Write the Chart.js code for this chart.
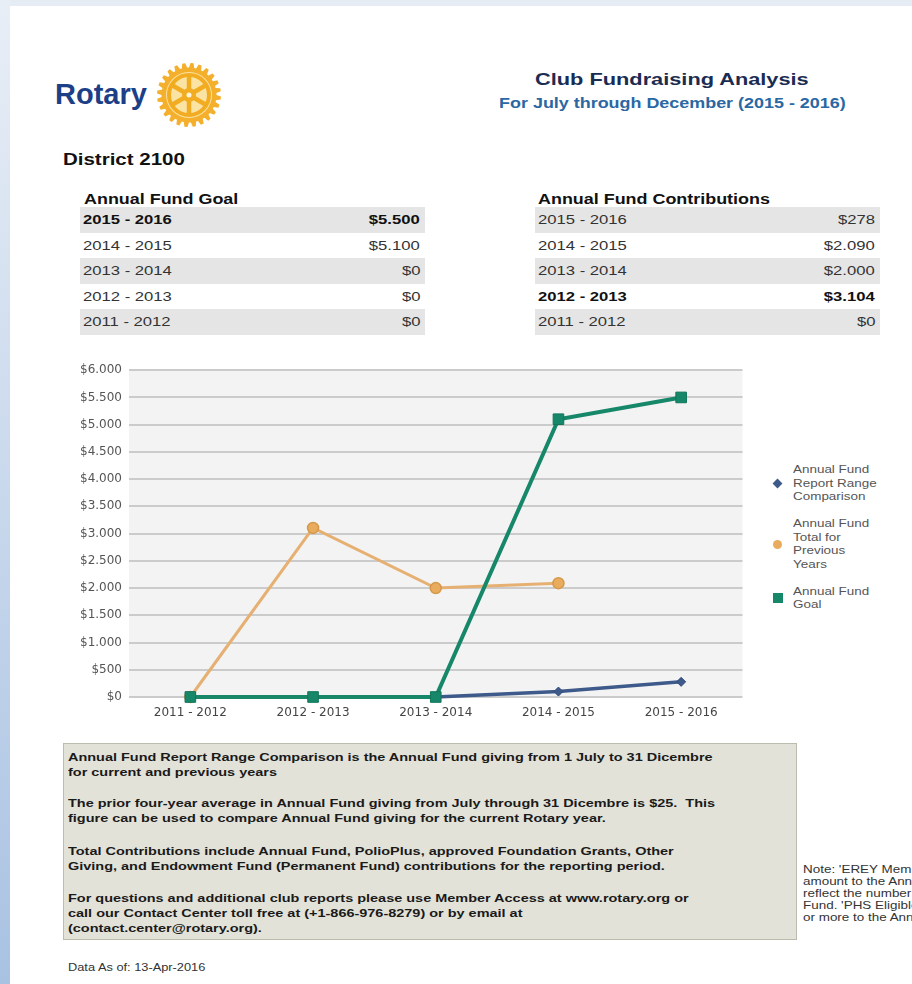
<!DOCTYPE html>
<html>
<head>
<meta charset="utf-8">
<script src="https://cdn.jsdelivr.net/npm/chart.js@4.4.0/dist/chart.umd.min.js"></script>
<style>
html, body { margin: 0; padding: 0; width: 912px; height: 984px; overflow: hidden; }
body { background: #e5ecf4; font-family: "Liberation Sans", Arial, sans-serif; color: #222; position: relative; }
#strip { position: absolute; left: 0; top: 0; width: 10px; height: 984px; background: linear-gradient(#e8eef6, #a9c2e2); }
#page { position: absolute; left: 10px; top: 6px; right: 0; bottom: 0; background: #fff; }
.a { position: absolute; white-space: nowrap; }
.s { display: inline-block; white-space: nowrap; transform: scaleX(1.28); transform-origin: left center; }
.s.r { transform-origin: right center; }
.s.c { transform-origin: center center; }
.row { display: flex; justify-content: space-between; height: 25.5px; line-height: 25.5px; font-size: 13px; color: #333; padding: 0 5px 0 3px; }
.row.sh { background: #e5e5e5; }
.row.b { font-weight: bold; color: #111; }
#note { position: absolute; left: 63px; top: 743px; width: 732px; height: 195px; background: #e3e2d8; border: 1px solid #bcbcae; }
.np { position: absolute; left: 68px; font-size: 11.3px; line-height: 15px; font-weight: bold; color: #1a1a1a; }
#legend { position: absolute; left: 771px; top: 463px; }
.li { position: relative; padding-left: 22px; margin-bottom: 13.5px; }
.li .mk { position: absolute; left: 2px; top: 50%; }
.li .tx { display: block; max-width: 70px; white-space: normal; font-size: 10.5px; line-height: 13.5px; color: #555; transform: scaleX(1.28); transform-origin: left center; }
</style>
</head>
<body>
<div id="strip"></div>
<div id="page"></div>

<div class="a" style="left:55px;top:78px;font-size:29px;line-height:32px;font-weight:bold;color:#1d3f88;">Rotary</div>
<svg class="a" id="wheel" style="left:155px;top:61px;" width="68" height="68" viewBox="0 0 68 68"></svg>

<div class="a" style="left:472px;top:70px;width:400px;text-align:center;font-size:17px;line-height:20px;font-weight:bold;color:#1b2c52;"><span class="s c">Club Fundraising Analysis</span></div>
<div class="a" style="left:472px;top:93px;width:400px;text-align:center;font-size:14px;line-height:20px;font-weight:bold;color:#2b67a3;"><span class="s c">For July through December (2015 - 2016)</span></div>

<div class="a" style="left:63px;top:150px;font-size:16px;line-height:20px;font-weight:bold;color:#111;"><span class="s">District 2100</span></div>
<div class="a" style="left:84px;top:190px;font-size:14px;line-height:18px;font-weight:bold;color:#111;"><span class="s">Annual Fund Goal</span></div>
<div class="a" style="left:538px;top:190px;font-size:14px;line-height:18px;font-weight:bold;color:#111;"><span class="s">Annual Fund Contributions</span></div>
<div class="a" id="goalTable" style="left:80px;top:207px;width:345px;"></div>
<div class="a" id="contribTable" style="left:535px;top:207px;width:345px;"></div>

<div class="a" style="left:60px;top:356px;width:691px;height:372px;">
  <canvas id="chart"></canvas>
</div>
<div id="legend"></div>

<div id="note"></div>
<div class="np" style="top:749.5px;"><span class="s">Annual Fund Report Range Comparison is the Annual Fund giving from 1 July to 31 Dicembre<br>for current and previous years</span></div>
<div class="np" style="top:795.5px;"><span class="s">The prior four-year average in Annual Fund giving from July through 31 Dicembre is $25.&nbsp; This<br>figure can be used to compare Annual Fund giving for the current Rotary year.</span></div>
<div class="np" style="top:843.5px;"><span class="s">Total Contributions include Annual Fund, PolioPlus, approved Foundation Grants, Other<br>Giving, and Endowment Fund (Permanent Fund) contributions for the reporting period.</span></div>
<div class="np" style="top:890.5px;"><span class="s">For questions and additional club reports please use Member Access at www.rotary.org or<br>call our Contact Center toll free at (+1-866-976-8279) or by email at<br>(contact.center@rotary.org).</span></div>

<div class="a" style="left:68px;top:961px;font-size:10px;line-height:14px;color:#333;"><span class="s">Data As of: 13-Apr-2016</span></div>

<div class="a" style="left:803px;top:863px;font-size:10.5px;line-height:12px;color:#333;"><span class="s">Note: 'EREY Member' indicates a member who has contributed a minimum<br>amount to the Annual Fund during the current Rotary year. Totals may not<br>reflect the number of members who contributed to the Annual<br>Fund. 'PHS Eligible' indicates a member who has contributed US$1,000<br>or more to the Annual Fund.</span></div>

<script>
const categories = ['2011 - 2012', '2012 - 2013', '2013 - 2014', '2014 - 2015', '2015 - 2016'];
const rangeComparison = [0, 0, 0, 100, 278];
const previousYears = [0, 3104, 2000, 2090, null];
const fundGoal = [0, 0, 0, 5100, 5500];
const contributions = [0, 3104, 2000, 2090, 278];
const seriesLabels = ['Annual Fund Report Range Comparison', 'Annual Fund Total for Previous Years', 'Annual Fund Goal'];
const yMax = 6000;
const yStep = 500;

function fmt(v) {
    return '$' + String(v).replace(/\B(?=(\d{3})+(?!\d))/g, '.');
}

// tables list the newest year first, the largest value in bold
function buildTable(el, values) {
    const max = Math.max(...values);
    let html = '';
    for (let i = categories.length - 1, r = 0; i >= 0; i--, r++) {
        const cls = 'row' + (r % 2 === 0 ? ' sh' : '') + (values[i] === max ? ' b' : '');
        html += `<div class="${cls}"><span class="s">${categories[i]}</span><span class="s r">${fmt(values[i])}</span></div>`;
    }
    el.innerHTML = html;
}
buildTable(document.getElementById('goalTable'), fundGoal);
buildTable(document.getElementById('contribTable'), contributions);

// rotary wheel logo
(function drawWheel() {
    const svg = document.getElementById('wheel');
    const cx = 34, cy = 34, n = 24, rOut = 32, rIn = 27.5;
    const pts = [];
    for (let i = 0; i < n; i++) {
        const step = Math.PI * 2 / n;
        const a = i * step;
        [[rIn, 0], [rOut, 0.18], [rOut, 0.55], [rIn, 0.73]].forEach(([r, f]) => {
            pts.push((cx + r * Math.cos(a + f * step)).toFixed(2) + ',' + (cy + r * Math.sin(a + f * step)).toFixed(2));
        });
    }
    let spokes = '';
    for (let i = 0; i < 6; i++) {
        const a = i * Math.PI / 3 + Math.PI / 6;
        spokes += `<line x1="${cx + 6 * Math.cos(a)}" y1="${cy + 6 * Math.sin(a)}" x2="${cx + 20 * Math.cos(a)}" y2="${cy + 20 * Math.sin(a)}" stroke="#f2ac22" stroke-width="4.5"/>`;
    }
    svg.innerHTML = `<polygon points="${pts.join(' ')}" fill="#f4b02c"/>
        <circle cx="${cx}" cy="${cy}" r="23" fill="#fbe3a4"/>
        <circle cx="${cx}" cy="${cy}" r="20" fill="none" stroke="#f2ac22" stroke-width="4"/>
        ${spokes}
        <circle cx="${cx}" cy="${cy}" r="7" fill="#f2ac22"/>
        <circle cx="${cx}" cy="${cy}" r="2.5" fill="#fff6dc"/>`;
})();

const plotBg = {
    id: 'plotBg',
    beforeDraw(c) {
        const { ctx, chartArea: a } = c;
        ctx.save();
        ctx.fillStyle = '#f3f3f3';
        ctx.fillRect(a.left, a.top, a.right - a.left, a.bottom - a.top);
        ctx.restore();
    }
};

const chart = new Chart(document.getElementById('chart'), {
    type: 'line',
    data: {
        labels: categories,
        datasets: [{
            label: seriesLabels[0],
            data: rangeComparison,
            borderColor: '#3d5a8b',
            backgroundColor: '#3d5a8b',
            borderWidth: 3.5,
            pointStyle: 'rectRot',
            pointRadius: 4.5,
            pointBorderWidth: 1,
            pointBorderColor: '#2f4a78',
            clip: false,
            order: 3
        }, {
            label: seriesLabels[1],
            data: previousYears,
            borderColor: '#e6b072',
            backgroundColor: '#e9ac5e',
            borderWidth: 3,
            pointStyle: 'circle',
            pointRadius: 5.5,
            pointBorderWidth: 1.5,
            pointBorderColor: '#d49848',
            clip: false,
            order: 2
        }, {
            label: seriesLabels[2],
            data: fundGoal,
            borderColor: '#17876a',
            backgroundColor: '#17876a',
            borderWidth: 4,
            pointStyle: 'rect',
            pointRadius: 7.5,
            pointBorderWidth: 1,
            pointBorderColor: '#127559',
            clip: false,
            order: 1
        }]
    },
    options: {
        responsive: true,
        maintainAspectRatio: false,
        animation: false,
        layout: { padding: { top: 10, right: 2, left: 0, bottom: 0 } },
        plugins: {
            legend: { display: false },
            tooltip: { enabled: false }
        },
        scales: {
            x: {
                offset: true,
                grid: { display: false, drawTicks: false },
                border: { display: false },
                ticks: { color: '#444', font: { family: 'DejaVu Sans', size: 12 }, padding: 9, maxRotation: 0, autoSkip: false },
                afterFit: s => { s.height = 31; }
            },
            y: {
                min: 0,
                max: yMax,
                ticks: { stepSize: yStep, color: '#555', font: { family: 'DejaVu Sans', size: 12 }, padding: 7, callback: v => fmt(v) },
                grid: { color: '#cbcbcb', lineWidth: 2, drawTicks: false },
                border: { display: false },
                afterFit: s => { s.width = 69; }
            }
        }
    },
    plugins: [plotBg]
});

// html legend so the labels wrap like the report
const legendEl = document.getElementById('legend');
chart.data.datasets.forEach(ds => {
    let mk;
    if (ds.pointStyle === 'rectRot') {
        mk = `<span class="mk" style="width:7px;height:7px;margin-top:-3.5px;margin-left:1px;background:${ds.backgroundColor};transform:rotate(45deg);"></span>`;
    } else if (ds.pointStyle === 'circle') {
        mk = `<span class="mk" style="width:9px;height:9px;margin-top:-4.5px;border-radius:50%;background:${ds.backgroundColor};"></span>`;
    } else {
        mk = `<span class="mk" style="width:10px;height:10px;margin-top:-5px;background:${ds.backgroundColor};"></span>`;
    }
    const item = document.createElement('div');
    item.className = 'li';
    item.innerHTML = mk + `<span class="tx">${ds.label}</span>`;
    legendEl.appendChild(item);
});
</script>
</body>
</html>
